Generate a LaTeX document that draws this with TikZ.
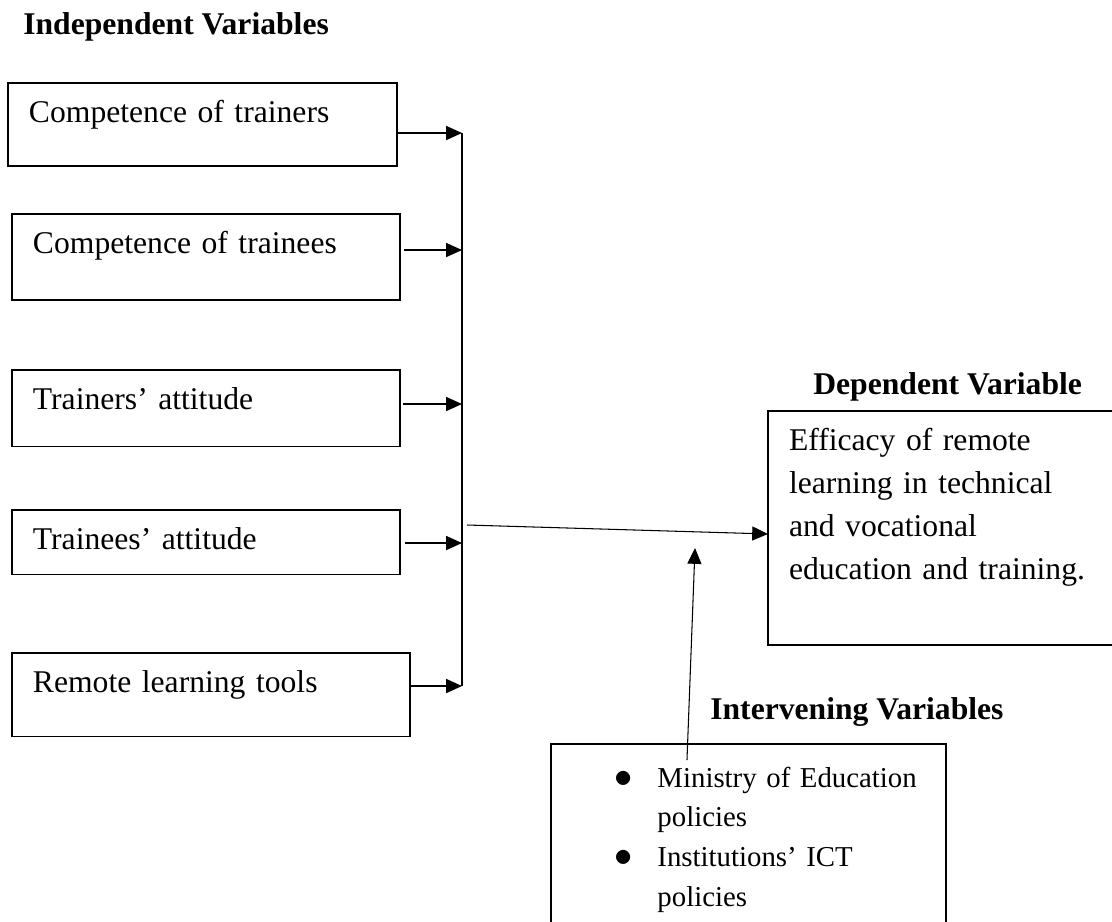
\documentclass[tikz,border=0pt]{standalone}
\usepackage{fontspec}
\setmainfont{Liberation Serif}
\usepackage{tikz}
\usetikzlibrary{arrows.meta}
\tikzset{
	box/.style = {draw, line width=1.1pt, outer sep=0pt, anchor=north west, inner ysep=0pt, align=left, font=\fontsize{18}{21.6}\selectfont},
	arrow/.style = {-{Triangle[length=9pt,width=8pt]}, line width=0.6pt}
}
\newcommand{\ivbullet}{\makebox[0.85cm][l]{\scalebox{1.2}{$\bullet$}}}

\begin{document}
\begin{tikzpicture}[
			x=0.02cm, y=-0.02cm,
			indep/.style={box, inner xsep=0.42cm, text width=6.92cm, text height=0.79cm},
			title/.style={anchor=base west, inner sep=0pt, font=\fontsize{18}{21.6}\selectfont\bfseries}
			]
			\useasboundingbox (0,0) rectangle (1112,921);
			\clip (0,0) rectangle (1112,921);
			
			% Ueberschriften
			\node[title] (T0) at (23,34) {Independent Variables};
			\node[title] (T1) at (813,394) {Dependent Variable};
			\node[title] (T2) at (710,719) {Intervening Variables};
			
			% unabhaengige Variablen
			\node[indep, text width=6.94cm, text height=0.78cm, text depth=0.88cm] (V1) at (8,83) {Competence of trainers};
			\node[indep, text height=0.78cm, text depth=0.94cm] (V2) at (12,214) {Competence of trainees};
			\node[indep, text depth=0.74cm] (V3) at (12,370) {Trainers’ attitude};
			\node[indep, text depth=0.5cm] (V4) at (12,510) {Trainees’ attitude};
			\node[indep, text width=7.12cm, text depth=0.88cm] (V5) at (12,653) {Remote learning tools};
			
			\node[box, inner xsep=0.42cm, text width=6.3cm, text height=0.78cm, text depth=3.9cm,
				font=\fontsize{18}{24.5}\selectfont] (DV) at (768,411)
				{Efficacy of remote\\ learning in technical\\ and vocational\\ education and training.};
			
			\node[box, inner xsep=0pt, text width=7.9cm, text height=0.86cm, text depth=3cm,
				font=\fontsize{16.4}{22.7}\selectfont] (IV) at (551,744)
				{\hspace*{1.28cm}\ivbullet Ministry of Education\\
				 \hspace*{2.13cm}policies\\
				 \hspace*{1.28cm}\ivbullet Institutions’ ICT\\
				 \hspace*{2.13cm}policies};
			
			\coordinate (b1) at (462,133);
			\coordinate (b2) at (462,250);
			\coordinate (b3) at (462,404);
			\coordinate (b4) at (462,543);
			\coordinate (b5) at (462,686);
			\coordinate (hub) at (467,525);
			\coordinate (tipI) at (695,548);
			
			\draw[line width=0.6pt] (b1) -- (b5);
			\draw[arrow] (V1.east |- b1) -- (b1);
			\draw[arrow, shorten <=0.08cm] (V2.east |- b2) -- (b2);
			\draw[arrow, shorten <=0.06cm] (V3.east |- b3) -- (b3);
			\draw[arrow, shorten <=0.1cm] (V4.east |- b4) -- (b4);
			\draw[arrow] (V5.east |- b5) -- (b5);
			\draw[arrow] (hub) -- ([yshift=-0.12cm]DV.west);
			\draw[arrow] ([xshift=2.72cm, yshift=-0.32cm]IV.north west) -- (tipI);
		\end{tikzpicture}
\end{document}
